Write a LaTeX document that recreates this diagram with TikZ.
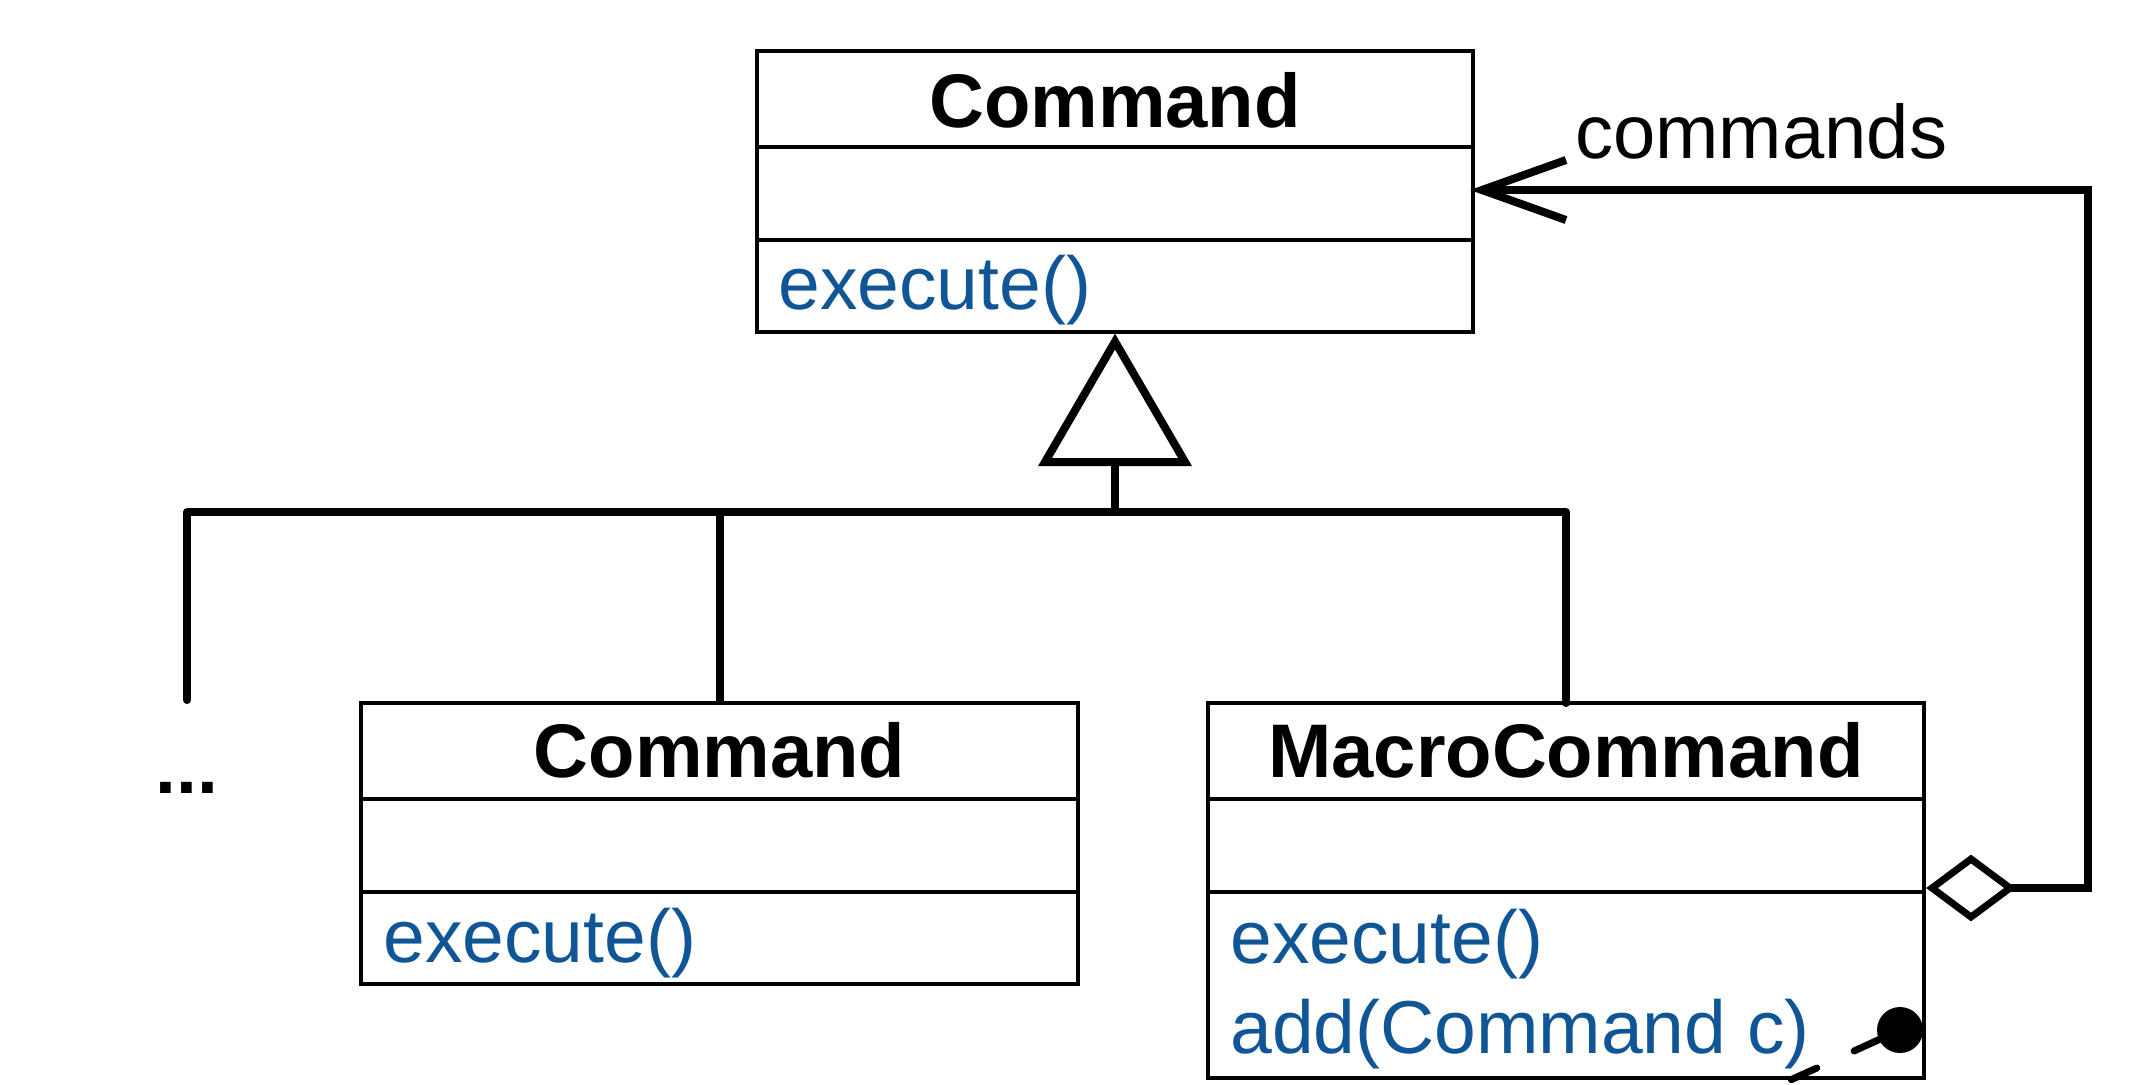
\documentclass[tikz,border=0pt]{standalone}
\usepackage{fontspec}
\setmainfont{Liberation Sans}
\definecolor{opblue}{RGB}{16,86,150}
\tikzset{
  classbox/.style={draw, line width=1.8pt, inner sep=0pt, outer sep=0pt, anchor=north west},
  divider/.style={line width=1.8pt},
  conn/.style={line width=4pt, line join=miter},
  thinconn/.style={line width=3.5pt, line join=miter},
  title/.style={font=\bfseries\fontsize{38}{40}\selectfont, anchor=base, inner sep=0pt},
  op/.style={font=\fontsize{37.5}{40}\selectfont, text=opblue, anchor=base west, inner sep=0pt},
  lbl/.style={font=\fontsize{38}{40}\selectfont, anchor=base west, inner sep=0pt},
  dotslbl/.style={font=\bfseries\fontsize{37.5}{40}\selectfont, anchor=base, inner sep=0pt},
}
\begin{document}
\begin{tikzpicture}[x=0.5pt,y=-0.5pt]
\useasboundingbox (0,0) rectangle (2130,1084);
% ---------- top class ----------
\node[classbox, minimum width=358pt, minimum height=140.5pt] (cmd) at (757,51) {};
\draw[divider] (cmd.west |- 0,147) -- (cmd.east |- 0,147);
\draw[divider] (cmd.west |- 0,240) -- (cmd.east |- 0,240);
\node[title] (cmdT) at (1115,127) {Command};
\node[op] (cmdOp) at (778,309) {execute()};
% ---------- left sub class ----------
\node[classbox, minimum width=358.5pt, minimum height=140.5pt] (sub) at (361,703) {};
\draw[divider] (sub.west |- 0,799) -- (sub.east |- 0,799);
\draw[divider] (sub.west |- 0,892) -- (sub.east |- 0,892);
\node[title] (subT) at (719.5,777) {Command};
\node[op] (subOp) at (383,962) {execute()};
% ---------- macro class ----------
\node[classbox, minimum width=358pt, minimum height=187.5pt] (macro) at (1208,703) {};
\draw[divider] (macro.west |- 0,799) -- (macro.east |- 0,799);
\draw[divider] (macro.west |- 0,892) -- (macro.east |- 0,892);
\node[title] (macroT) at (1566,777) {MacroCommand};
\node[op] (macroOp1) at (1230,963) {execute()};
\node[op] (macroOp2) at (1230,1053) {add(Command c)};
% ---------- generalization ----------
\coordinate (apex) at ([yshift=-4.8pt]cmd.south);
\coordinate (triB) at (1115,462);
\coordinate (junc) at (1115,512);
\coordinate (etc) at (187,700);
\node[dotslbl] (dots) at (187,793) {...};
\draw[conn, fill=white] (apex) -- (1185,462) -- (1045,462) -- cycle;
\draw[conn] (triB) -- (junc);
\draw[conn, line join=round, line cap=round] (etc) -- (etc |- junc) -- (macro.north |- junc) -- (macro.north);
\draw[conn] (sub.north) -- (sub.north |- junc);
% ---------- aggregation / association ----------
\coordinate (aggL) at ([xshift=4pt]macro.east |- 0,888);
\coordinate (aggR) at ([xshift=39pt]aggL);
\coordinate (arrtip) at ([xshift=4.5pt]cmd.east |- 0,190);
\draw[thinconn, fill=white] (aggL) -- ++(39,-29) -- (aggR) -- ++(-39,29) -- cycle;
\draw[conn] (aggR) -| (2088,190) -- (arrtip);
\draw[conn] (1566,160) -- (arrtip) -- (1566,220);
\node[lbl] (cmdsL) at (1575,158) {commands};
% ---------- note anchor fragment ----------
\fill (1900,1030) circle [radius=23];
\draw[line width=3.5pt, line cap=round, dash pattern=on 25.25pt off 20.5pt on 14pt off 20.5pt] (1900,1030) -- (1740,1103);
\end{tikzpicture}
\end{document}
